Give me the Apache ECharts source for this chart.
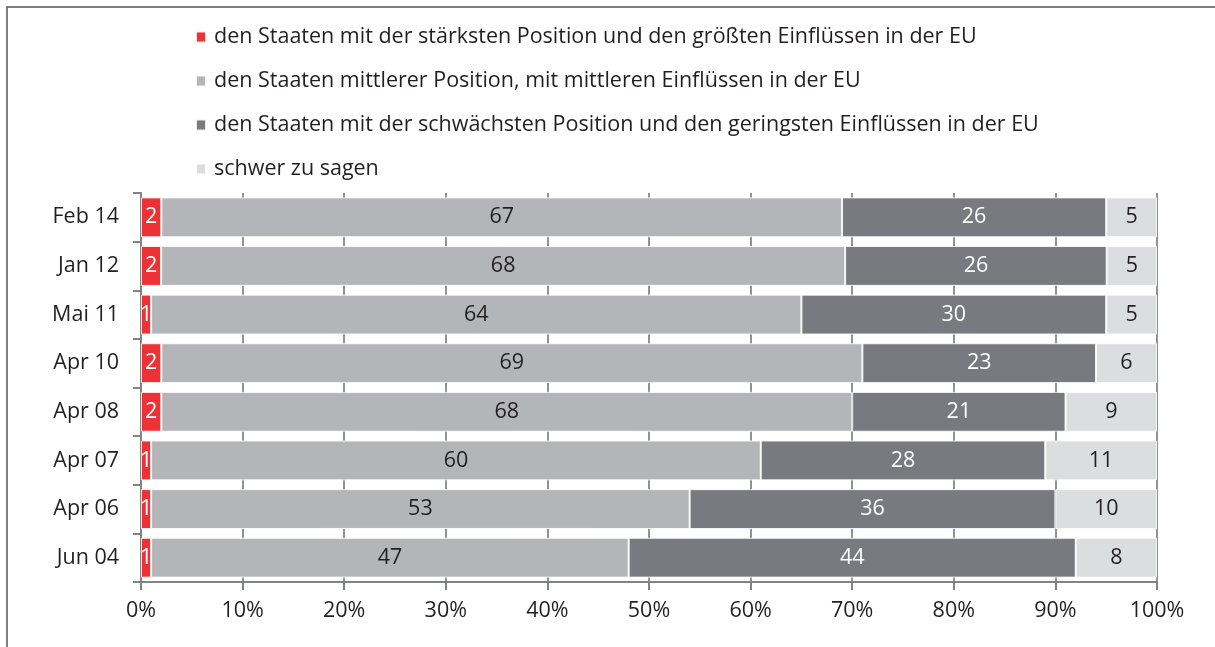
<!DOCTYPE html>
<html lang="de">
<head>
<meta charset="UTF-8">
<title>EU Einfluss</title>
<style>
  html, body { margin: 0; padding: 0; background: #fff; }
  #app { width: 1215px; height: 647px; }
</style>
</head>
<body>
<div id="app"></div>
<script src="https://cdn.jsdelivr.net/npm/echarts@6/dist/echarts.min.js"></script>
<script>
// Kategorien (oben nach unten)
var categories = ['Feb 14', 'Jan 12', 'Mai 11', 'Apr 10', 'Apr 08', 'Apr 07', 'Apr 06', 'Jun 04'];
var seriesNames = [
  'den Staaten mit der stärksten Position und den größten Einflüssen in der EU',
  'den Staaten mittlerer Position, mit mittleren Einflüssen in der EU',
  'den Staaten mit der schwächsten Position und den geringsten Einflüssen in der EU',
  'schwer zu sagen'
];
var strongest = [2, 2, 1, 2, 2, 1, 1, 1];
var middle    = [67, 68, 64, 69, 68, 60, 53, 47];
var weakest   = [26, 26, 30, 23, 21, 28, 36, 44];
var hardToSay = [5, 5, 5, 6, 9, 11, 10, 8];
var xTicks = [0, 10, 20, 30, 40, 50, 60, 70, 80, 90, 100];

var colors = ['#ee3135', '#b3b5b8', '#797a7f', '#dcdddf'];
var labelColors = ['#ffffff', '#231f20', '#ffffff', '#231f20'];
var rows = [strongest, middle, weakest, hardToSay];

// jede Zeile auf 100 % skaliert (z.B. Jan 12 summiert auf 101)
var totals = categories.map(function (c, i) {
  return rows.reduce(function (s, r) { return s + r[i]; }, 0);
});

var font = '"Open Sans", sans-serif';
var fs = 21.5;
var chart = echarts.init(document.getElementById('app'));

var series = rows.map(function (r, k) {
  return {
    name: seriesNames[k],
    type: 'bar',
    stack: 'all',
    barCategoryGap: '18%',
    itemStyle: { color: colors[k], borderColor: 'rgba(255,255,255,0.85)', borderWidth: 1 },
    label: {
      show: true,
      position: 'inside',
      color: labelColors[k],
      fontFamily: font,
      fontSize: fs,
      formatter: function (p) { return r[p.dataIndex]; }
    },
    emphasis: { disabled: true },
    data: r.map(function (v, i) { return v / totals[i] * 100; })
  };
});

var option = {
  animation: false,
  color: colors,
  graphic: [{
    type: 'rect',
    shape: { x: 7, y: 7, width: 1400, height: 800 },
    style: { fill: 'none', stroke: '#555', lineWidth: 1.5 },
    silent: true
  }],
  legend: {
    orient: 'vertical',
    left: 195,
    top: 26,
    padding: 0,
    itemWidth: 10,
    itemHeight: 11,
    itemGap: 22,
    icon: 'rect',
    selectedMode: false,
    textStyle: { fontFamily: font, fontSize: fs, color: '#231f20', lineHeight: 20, padding: [0, 0, 0, 3] },
    data: seriesNames
  },
  grid: { left: 141, right: 58, top: 193, bottom: 65 },
  xAxis: {
    type: 'value',
    min: 0,
    max: 100,
    interval: 10,
    axisLine: { show: true, lineStyle: { color: '#808285', width: 2 } },
    axisTick: { show: true, length: 8, lineStyle: { color: '#808285', width: 2 } },
    splitLine: { show: true, lineStyle: { color: '#6d6e71', width: 1.5 } },
    axisLabel: {
      margin: 18,
      fontFamily: font,
      fontSize: fs,
      color: '#231f20',
      formatter: function (v) { return xTicks.indexOf(v) >= 0 ? v + '%' : ''; }
    }
  },
  yAxis: {
    type: 'category',
    inverse: true,
    data: categories,
    axisLine: { show: true, lineStyle: { color: '#808285', width: 2 } },
    axisTick: { show: true, length: 8, lineStyle: { color: '#808285', width: 2 } },
    axisLabel: { margin: 22, fontFamily: font, fontSize: fs, color: '#231f20' }
  },
  series: series
};
chart.setOption(option);
</script>
</body>
</html>
